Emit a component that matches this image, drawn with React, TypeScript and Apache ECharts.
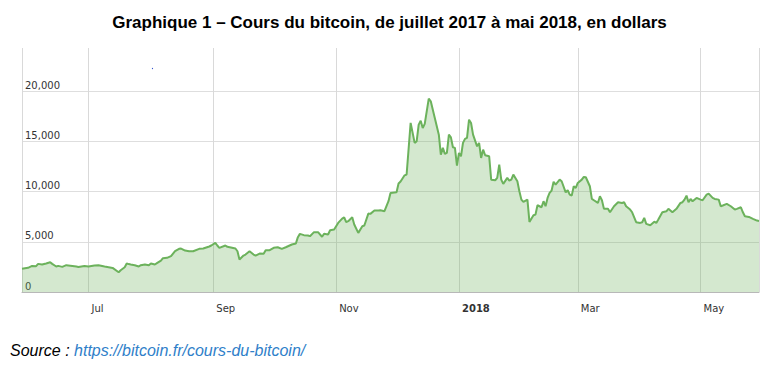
import React, { useEffect, useRef } from "react";
import * as echarts from "echarts";

const TITLE = "Graphique 1 – Cours du bitcoin, de juillet 2017 à mai 2018, en dollars";
const SOURCE_LABEL = "Source : ";
const SOURCE_URL = "https://bitcoin.fr/cours-du-bitcoin/";

const X_MIN = "2017-05-29";
const X_MAX = "2018-05-30";
const Y_TICKS = [0, 5000, 10000, 15000, 20000];

const dates = [
  "2017-05-29", "2017-06-01", "2017-06-03", "2017-06-05", "2017-06-06", "2017-06-08", "2017-06-10", "2017-06-12",
  "2017-06-13", "2017-06-15", "2017-06-16", "2017-06-18", "2017-06-20", "2017-06-23", "2017-06-25", "2017-06-26",
  "2017-06-29", "2017-07-01", "2017-07-04", "2017-07-06", "2017-07-09", "2017-07-11", "2017-07-13", "2017-07-16",
  "2017-07-17", "2017-07-19", "2017-07-20", "2017-07-21", "2017-07-22", "2017-07-24", "2017-07-26", "2017-07-27",
  "2017-07-29", "2017-07-31", "2017-08-01", "2017-08-03", "2017-08-04", "2017-08-06", "2017-08-07", "2017-08-09",
  "2017-08-11", "2017-08-13", "2017-08-15", "2017-08-16", "2017-08-18", "2017-08-20", "2017-08-22", "2017-08-25",
  "2017-08-27", "2017-08-30", "2017-08-31", "2017-09-02", "2017-09-03", "2017-09-04", "2017-09-07", "2017-09-08",
  "2017-09-12", "2017-09-13", "2017-09-14", "2017-09-16", "2017-09-17", "2017-09-19", "2017-09-21", "2017-09-22",
  "2017-09-24", "2017-09-26", "2017-09-27", "2017-09-29", "2017-10-01", "2017-10-03", "2017-10-05", "2017-10-07",
  "2017-10-10", "2017-10-12", "2017-10-13", "2017-10-14", "2017-10-16", "2017-10-18", "2017-10-19", "2017-10-21",
  "2017-10-23", "2017-10-25", "2017-10-26", "2017-10-28", "2017-10-29", "2017-10-31", "2017-11-02", "2017-11-04",
  "2017-11-05", "2017-11-06", "2017-11-07", "2017-11-09", "2017-11-10", "2017-11-12", "2017-11-14", "2017-11-15",
  "2017-11-17", "2017-11-18", "2017-11-20", "2017-11-22", "2017-11-23", "2017-11-25", "2017-11-27", "2017-11-28",
  "2017-12-01", "2017-12-02", "2017-12-03", "2017-12-05", "2017-12-06", "2017-12-08", "2017-12-10", "2017-12-11",
  "2017-12-12", "2017-12-13", "2017-12-14", "2017-12-15", "2017-12-17", "2017-12-18", "2017-12-20", "2017-12-22",
  "2017-12-23", "2017-12-24", "2017-12-25", "2017-12-26", "2017-12-27", "2017-12-28", "2017-12-29", "2017-12-30",
  "2017-12-31", "2018-01-01", "2018-01-02", "2018-01-03", "2018-01-04", "2018-01-05", "2018-01-06", "2018-01-07",
  "2018-01-08", "2018-01-10", "2018-01-11", "2018-01-12", "2018-01-13", "2018-01-14", "2018-01-16", "2018-01-17",
  "2018-01-19", "2018-01-20", "2018-01-21", "2018-01-22", "2018-01-23", "2018-01-25", "2018-01-26", "2018-01-27",
  "2018-01-28", "2018-01-30", "2018-01-31", "2018-02-01", "2018-02-02", "2018-02-04", "2018-02-05", "2018-02-07",
  "2018-02-08", "2018-02-09", "2018-02-11", "2018-02-12", "2018-02-13", "2018-02-14", "2018-02-15", "2018-02-16",
  "2018-02-17", "2018-02-18", "2018-02-20", "2018-02-21", "2018-02-23", "2018-02-24", "2018-02-25", "2018-02-26",
  "2018-02-27", "2018-02-28", "2018-03-01", "2018-03-03", "2018-03-04", "2018-03-05", "2018-03-07", "2018-03-08",
  "2018-03-09", "2018-03-11", "2018-03-12", "2018-03-13", "2018-03-14", "2018-03-16", "2018-03-17", "2018-03-19",
  "2018-03-21", "2018-03-23", "2018-03-24", "2018-03-25", "2018-03-27", "2018-03-28", "2018-03-30", "2018-04-01",
  "2018-04-02", "2018-04-03", "2018-04-04", "2018-04-06", "2018-04-08", "2018-04-09", "2018-04-10", "2018-04-12",
  "2018-04-14", "2018-04-15", "2018-04-17", "2018-04-19", "2018-04-21", "2018-04-22", "2018-04-23", "2018-04-24",
  "2018-04-25", "2018-04-26", "2018-04-27", "2018-04-29", "2018-05-01", "2018-05-02", "2018-05-04", "2018-05-05",
  "2018-05-07", "2018-05-08", "2018-05-10", "2018-05-11", "2018-05-12", "2018-05-14", "2018-05-16", "2018-05-18",
  "2018-05-19", "2018-05-21", "2018-05-22", "2018-05-23", "2018-05-25", "2018-05-27", "2018-05-29", "2018-05-30",
];

const prices = [
  2310, 2410, 2600, 2570, 2800, 2740, 2840, 2970,
  2800, 2540, 2600, 2500, 2670, 2600, 2540, 2500,
  2600, 2540, 2640, 2670, 2540, 2470, 2400, 1970,
  2170, 2470, 2840, 2780, 2740, 2670, 2540, 2670,
  2740, 2670, 2840, 2740, 2870, 3130, 3370, 3400,
  3570, 4060, 4300, 4330, 4130, 4060, 4060, 4300,
  4330, 4530, 4630, 4890, 4630, 4400, 4630, 4500,
  4330, 4060, 3230, 3630, 3730, 4060, 3730, 3630,
  3830, 3800, 4160, 4160, 4400, 4460, 4300, 4460,
  4730, 4830, 5460, 5790, 5660, 5630, 5560, 5960,
  5960, 5500, 5790, 5730, 6150, 6220, 6880, 7310,
  7440, 6960, 7050, 7440, 6720, 5890, 6550, 6620,
  7810, 7780, 8110, 8110, 8140, 8050, 9040, 9870,
  9930, 10800, 11000, 11620, 11700, 16840, 14850, 15020,
  16670, 17060, 16340, 16740, 19250, 18990, 17330, 15670,
  13680, 14350, 13750, 13850, 15670, 15400, 14410, 14350,
  12590, 13850, 13520, 14850, 15250, 15350, 17160, 16830,
  15670, 14510, 14840, 13350, 14180, 13620, 13520, 11190,
  11130, 11360, 12690, 11190, 10770, 11360, 11090, 11190,
  11690, 11030, 10030, 9200, 8970, 9200, 6980, 7640,
  7710, 8640, 8440, 9040, 8540, 9370, 9870, 10100,
  10980, 10700, 11190, 11030, 9930, 10130, 9700, 9600,
  10530, 10360, 10860, 11190, 11460, 11430, 10530, 9270,
  9140, 8870, 9530, 9140, 8280, 8280, 7940, 8540,
  8940, 8870, 8940, 8540, 8210, 7940, 6950, 6880,
  6950, 7380, 6780, 6650, 7000, 6880, 7210, 7940,
  8040, 8280, 7940, 8280, 8870, 8940, 9200, 9600,
  8940, 9270, 9040, 9370, 9200, 9140, 9700, 9800,
  9370, 9270, 9200, 8540, 8610, 8770, 8540, 8210,
  8280, 8440, 7940, 7540, 7480, 7280, 7110, 7080,
];

export default function App() {
  const ref = useRef<HTMLDivElement>(null);

  useEffect(() => {
    if (!ref.current) return;
    const chart = echarts.init(ref.current, null, { renderer: "svg" });
    const seriesData = dates.map((d, i) => [d, prices[i]]);
    const DAY = 86400000;

    chart.setOption({
      animation: false,
      backgroundColor: "#ffffff",
      title: {
        text: TITLE,
        left: "center",
        top: 9,
        textStyle: {
          fontFamily: "Liberation Sans, Arial, sans-serif",
          fontSize: 17,
          fontWeight: "bold",
          color: "#000000",
        },
      },
      grid: { left: 22, right: 20, top: 48, bottom: 78, containLabel: false },
      xAxis: {
        type: "time",
        min: X_MIN,
        max: X_MAX,
        minInterval: 75 * DAY,
        maxInterval: 75 * DAY,
        axisLine: { show: true, lineStyle: { color: "#b8b8b8", width: 1 } },
        axisTick: { show: false },
        splitLine: { show: true, lineStyle: { color: "#d9d9d9", width: 1 } },
        axisLabel: {
          align: "left",
          padding: [0, 0, 0, 3],
          margin: 11,
          fontFamily: "DejaVu Sans, Verdana, sans-serif",
          fontSize: 10,
          color: "#333333",
          hideOverlap: false,
        },
      },
      yAxis: {
        type: "value",
        min: 0,
        max: 24300,
        interval: 5000,
        axisLine: { show: false },
        axisTick: { show: false },
        splitLine: {
          show: true,
          showMaxLine: false,
          lineStyle: { color: "#dedede", width: 1 },
        },
        axisLabel: {
          inside: true,
          margin: 3,
          verticalAlign: "bottom",
          padding: [0, 0, 1, 0],
          fontFamily: "DejaVu Sans, Verdana, sans-serif",
          fontSize: 10,
          color: "#333333",
          showMaxLabel: false,
          formatter: (v: number) =>
            Y_TICKS.indexOf(v) >= 0 ? v.toLocaleString("en-US") : "",
        },
      },
      series: [
        {
          type: "line",
          data: seriesData,
          showSymbol: false,
          symbol: "none",
          smooth: false,
          lineStyle: { color: "#6cb25c", width: 2 },
          areaStyle: { color: "rgba(108,178,92,0.42)" },
          z: 3,
        },
      ],
      graphic: [
        {
          type: "circle",
          shape: { cx: 152.5, cy: 68.5, r: 0.6 },
          style: { fill: "#3355cc" },
          silent: true,
        },
        {
          type: "text",
          left: 10,
          top: 342,
          style: {
            text: `{a|${SOURCE_LABEL}}{b|${SOURCE_URL}}`,
            rich: {
              a: {
                fontFamily: "Liberation Sans, Arial, sans-serif",
                fontSize: 16,
                fontStyle: "italic",
                fill: "#000000",
              },
              b: {
                fontFamily: "Liberation Sans, Arial, sans-serif",
                fontSize: 16,
                fontStyle: "italic",
                fill: "#2f80c9",
              },
            },
          },
        },
      ],
    });

    return () => chart.dispose();
  }, []);

  return (
    <div
      ref={ref}
      style={{ position: "fixed", left: 0, top: 0, width: 779, height: 370, background: "#fff" }}
    />
  );
}
